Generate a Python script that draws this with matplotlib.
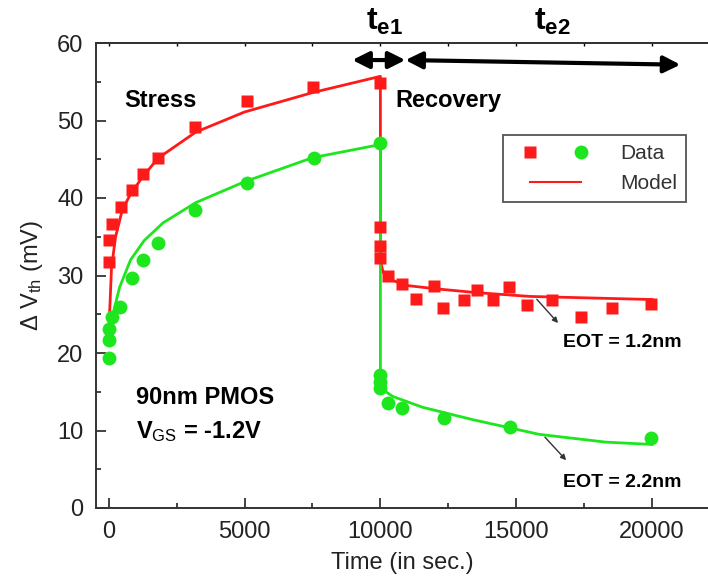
import numpy as np
import matplotlib
matplotlib.use('Agg')
import matplotlib.pyplot as plt
from matplotlib.lines import Line2D
from matplotlib.legend_handler import HandlerBase
from matplotlib.ticker import MultipleLocator

plt.rcParams['font.family'] = ['Liberation Sans', 'DejaVu Sans']
plt.rcParams['mathtext.fontset'] = 'custom'
plt.rcParams['mathtext.rm'] = 'Liberation Sans'
plt.rcParams['mathtext.bf'] = 'Liberation Sans:bold'
plt.rcParams['mathtext.it'] = 'Liberation Sans:italic'

# EOT = 1.2nm (red squares)
red_t = [0, 0, 120, 450, 860, 1260, 1810, 3180, 5090, 7520, 10000,
         10000, 10000, 10000, 10265, 10780, 11295, 11990, 12320, 13060,
         13570, 14130, 14750, 15410, 16330, 17400, 18540, 19970]
red_v = [31.7, 34.6, 36.7, 38.9, 41.0, 43.1, 45.2, 49.2, 52.5, 54.3, 54.8,
         36.3, 33.8, 32.3, 29.9, 28.9, 27.0, 28.6, 25.8, 26.8,
         28.1, 26.8, 28.5, 26.2, 26.8, 24.6, 25.8, 26.3]

# EOT = 2.2nm (green circles)
green_t = [0, 0, 0, 120, 410, 860, 1260, 1810, 3170, 5080, 7540, 10000,
           10000, 10000, 10000, 10265, 10780, 12330, 14790, 19970]
green_v = [19.4, 21.7, 23.1, 24.6, 25.9, 29.7, 32.0, 34.2, 38.5, 41.9, 45.2, 47.1,
           17.2, 16.3, 15.5, 13.5, 12.9, 11.6, 10.5, 9.0]

# model curves
red_model_t = [0, 100, 250, 500, 800, 1200, 1800, 3200, 5000, 7500, 10000,
               10000, 10100, 10500, 11000, 12000, 13500, 15500, 20000]
red_model_v = [22.6, 31, 35, 38.5, 40.5, 42.5, 45.1, 48.5, 51.1, 53.6, 55.7,
               32.0, 30.4, 29.3, 28.7, 28.3, 27.8, 27.3, 26.9]

green_model_t = [0, 150, 400, 800, 1300, 2000, 3200, 5000, 7500, 10000,
                 10000, 10450, 11550, 13400, 15850, 18300, 20000]
green_model_v = [22.0, 25.0, 28.5, 32.0, 34.5, 36.8, 39.4, 42.1, 45.2, 46.9,
                 15.5, 14.4, 13.0, 11.4, 9.5, 8.5, 8.2]

red = '#ff1a1a'
green = '#1ee61e'
FS = 17


class DataHandler(HandlerBase):
    # red square at the left, green circle at the right of the handle box
    def create_artists(self, legend, orig_handle, xdescent, ydescent,
                       width, height, fontsize, trans):
        y = height / 2 - ydescent
        sq = Line2D([0.235 * width - xdescent], [y], ls='none', marker='s',
                    color=red, ms=9, mec='none', transform=trans)
        ci = Line2D([0.916 * width - xdescent], [y], ls='none', marker='o',
                    color=green, ms=10, mec='none', transform=trans)
        return [sq, ci]


class ModelHandler(HandlerBase):
    def create_artists(self, legend, orig_handle, xdescent, ydescent,
                       width, height, fontsize, trans):
        y = height / 2 - ydescent
        ln = Line2D([0.235 * width - xdescent, 0.916 * width - xdescent], [y, y],
                    color=red, lw=1.5, transform=trans)
        return [ln]


fig = plt.figure(figsize=(7.08, 5.88), dpi=100)
ax = fig.add_axes([96/708, 1-508/588, 1-96/708, (508-43)/588])

ax.plot(red_model_t, red_model_v, color=red, lw=2, zorder=2)
ax.plot(green_model_t, green_model_v, color=green, lw=2, zorder=2)
ax.plot(red_t, red_v, 's', color=red, ms=9, mec='none', zorder=3)
ax.plot(green_t, green_v, 'o', color=green, ms=10, mec='none', zorder=3)

ax.set_xlim(-471, 22062)
ax.set_ylim(0, 60)
ax.xaxis.set_major_locator(MultipleLocator(5000))
ax.xaxis.set_minor_locator(MultipleLocator(2500))
ax.yaxis.set_major_locator(MultipleLocator(10))
ax.yaxis.set_minor_locator(MultipleLocator(5))
ax.tick_params(which='both', direction='in', width=1.2, colors='#222222',
               labelsize=FS, pad=9)
ax.tick_params(which='major', length=7)
ax.tick_params(which='minor', length=3.5)
ax.spines['right'].set_visible(False)
for s in ['left', 'bottom', 'top']:
    ax.spines[s].set_linewidth(1.4)
    ax.spines[s].set_color('#333333')

sec = ax.secondary_xaxis('top')
sec.xaxis.set_major_locator(MultipleLocator(5000))
sec.xaxis.set_minor_locator(MultipleLocator(2500))
sec.tick_params(which='both', direction='in', length=2.5, width=1, labeltop=False)
sec.spines['top'].set_linewidth(1.4)
sec.spines['top'].set_color('#777777')

ax.set_xlabel('Time (in sec.)', fontsize=FS, color='#222222', labelpad=7)
ax.set_ylabel(r'$\Delta$ V$_{\rm th}$ (mV)', fontsize=FS, color='#222222', labelpad=9)

# text annotations
ax.text(1885, 52.6, 'Stress', fontsize=FS, fontweight='bold', ha='center', va='center')
ax.text(12490, 52.6, 'Recovery', fontsize=FS, fontweight='bold', ha='center', va='center')
ax.text(1000, 14.2, '90nm PMOS', fontsize=FS, fontweight='bold', ha='left', va='center')
ax.text(1000, 9.9, r'V$_{\rm GS}$ = -1.2V', fontsize=FS, fontweight='bold',
        ha='left', va='center')
ax.text(16720, 21.3, 'EOT = 1.2nm', fontsize=14, fontweight='bold', ha='left', va='center')
ax.text(16720, 3.3, 'EOT = 2.2nm', fontsize=14, fontweight='bold', ha='left', va='center')
ax.annotate('', xy=(16610, 23.6), xytext=(15690, 27.2),
            arrowprops=dict(arrowstyle='-|>', color='#333333', lw=1, mutation_scale=8))
ax.annotate('', xy=(16910, 5.9), xytext=(15990, 9.4),
            arrowprops=dict(arrowstyle='-|>', color='#333333', lw=1, mutation_scale=8))

# t_e1 / t_e2 arrows
ax.annotate('', xy=(8965, 57.8), xytext=(10920, 57.8),
            arrowprops=dict(arrowstyle='<|-|>', color='black', lw=3, mutation_scale=25,
                            shrinkA=0, shrinkB=0))
ax.annotate('', xy=(10920, 57.8), xytext=(21045, 57.2),
            arrowprops=dict(arrowstyle='<|-|>', color='black', lw=3, mutation_scale=25,
                            shrinkA=0, shrinkB=0))
ax.text(10170, 62.7, r'$\mathbf{t_{e1}}$', fontsize=23, ha='center', va='center', clip_on=False)
ax.text(16350, 62.7, r'$\mathbf{t_{e2}}$', fontsize=23, ha='center', va='center', clip_on=False)

# legend
h_data = Line2D([], [])
h_model = Line2D([], [], color=red)
leg = ax.legend([h_data, h_model], ['Data', 'Model'],
                handler_map={h_data: DataHandler(), h_model: ModelHandler()},
                loc='upper left', bbox_to_anchor=(0.665, 0.802), borderaxespad=0,
                handlelength=3.6, handletextpad=1.57, borderpad=0.45, labelspacing=0.5,
                fontsize=15, fancybox=False, framealpha=1, edgecolor='#555555')
for t in leg.get_texts():
    t.set_color('#333333')
leg.get_frame().set_linewidth(1.3)

fig.savefig('out.png', dpi=100)
